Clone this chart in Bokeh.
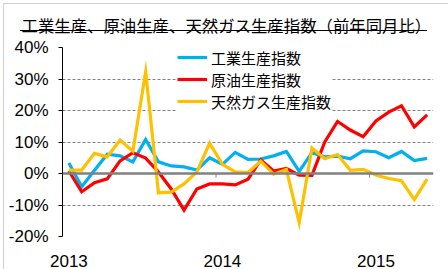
from bokeh.plotting import figure
from bokeh.models import (Range1d, FixedTicker, Span, Legend, LegendItem, ColumnDataSource, Title,
                          InlineStyleSheet)
from bokeh.embed import file_html
from bokeh.resources import INLINE

# Months Jan 2013 .. May 2015
months = [f"{y}-{m:02d}" for y in (2013, 2014, 2015) for m in range(1, 13)][:29]
year_labels = ["2013", "2014", "2015"]

industrial = [3.3, -4.2, 1.0, 6.1, 5.6, 3.7, 10.8, 3.7, 2.4, 2.1, 1.1, 5.0, 2.9, 6.7, 4.5,
              4.6, 5.6, 7.0, 0.7, 6.6, 5.3, 5.5, 4.7, 7.2, 6.9, 5.0, 7.0, 4.1, 4.8]
crude_oil = [0.8, -5.8, -2.9, -1.7, 4.0, 6.6, 4.9, 0.5, -4.9, -11.6, -4.9, -3.3, -3.3, -3.6, -1.8,
             4.3, 0.8, 1.6, -0.5, -0.6, 10.0, 16.5, 13.8, 11.7, 16.7, 19.5, 21.5, 14.8, 18.6]
natural_gas = [1.1, 1.1, 6.4, 5.3, 10.6, 7.1, 32.3, -6.1, -5.9, -3.3, 0.5, 9.6, 2.9, 0.5, 0.3,
               3.9, -0.2, 1.3, -15.6, 8.1, 4.7, 6.0, 1.0, 1.3, -0.5, -1.6, -2.3, -8.3, -1.8]

series_names = ["工業生産指数", "原油生産指数", "天然ガス生産指数"]
colors = ["#00B0F0", "#FF0000", "#FFC000"]
title_text = "工業生産、原油生産、天然ガス生産指数（前年同月比）"

W, H = 448, 269
L, R, T, B = 62, 15, 46, 30
x = list(range(len(months)))
src = ColumnDataSource(dict(x=x, ind=industrial, oil=crude_oil, gas=natural_gas))

# underline of the title and the light chart-area border, drawn with CSS on the figure host
css = InlineStyleSheet(css="""
:host { position: relative; }
:host::after { content: ""; position: absolute; left: 20px; top: 30px; width: 407px; height: 1px;
               background: #000; z-index: 20; pointer-events: none; }
:host::before { content: ""; position: absolute; left: 3px; top: 3px; width: 445px; height: 266px;
                border-left: 1px solid #d0d0d0; border-top: 1px solid #d0d0d0; z-index: 20;
                pointer-events: none; }
""")

p = figure(width=W, height=H, output_backend="svg", toolbar_location=None,
           x_range=Range1d(-0.5, len(months) - 0.5), y_range=Range1d(-20, 40),
           min_border_left=L, min_border_right=R, min_border_top=T, min_border_bottom=B,
           stylesheets=[css])
p.outline_line_color = None
p.background_fill_color = "white"
p.border_fill_color = "white"

title = Title(text=title_text, align="left", offset=21 - L, standoff=21,
              text_font="Noto Sans CJK JP", text_font_size="16.4px", text_font_style="normal",
              text_color="black")
p.add_layout(title, "above")

# grid
p.xgrid.visible = False
p.ygrid.ticker = FixedTicker(ticks=[-20, -10, 10, 20, 30, 40])
p.ygrid.grid_line_color = "#808080"
p.ygrid.grid_line_dash = "3 2"
p.ygrid.grid_line_width = 1

# y axis
p.yaxis.ticker = FixedTicker(ticks=[-20, -10, 0, 10, 20, 30, 40])
p.yaxis.major_label_overrides = {v: f"{v}%" for v in range(-20, 41, 10)}
p.yaxis.axis_line_color = "black"
p.yaxis.axis_line_width = 1
p.yaxis.major_tick_line_color = "black"
p.yaxis.major_tick_out = 4
p.yaxis.major_tick_in = 0
p.yaxis.minor_tick_line_color = None
p.yaxis.major_label_standoff = 10
p.yaxis.major_label_text_font = "Liberation Sans"
p.yaxis.major_label_text_font_size = "17px"
p.yaxis.major_label_text_color = "black"

# x axis: year labels at January of each year
jan_idx = [i for i, m in enumerate(months) if m.endswith("-01")]
p.xaxis.ticker = FixedTicker(ticks=jan_idx)
p.xaxis.major_label_overrides = {i: lab for i, lab in zip(jan_idx, year_labels)}
p.xaxis.axis_line_color = None
p.xaxis.major_tick_line_color = None
p.xaxis.minor_tick_line_color = None
p.xaxis.major_label_standoff = 12
p.xaxis.major_label_text_font = "Liberation Sans"
p.xaxis.major_label_text_font_size = "17px"
p.xaxis.major_label_text_color = "black"

# zero line and year boundary ticks
p.add_layout(Span(location=0, dimension="width", line_color="#808080", line_width=2.5))
bounds = [i - 0.5 for i in jan_idx if i > 0]
p.segment(x0=bounds, x1=bounds, y0=[0] * len(bounds), y1=[-1.3] * len(bounds),
          line_color="#808080", line_width=1)

renderers = []
for key, c in zip(["ind", "oil", "gas"], colors):
    r = p.line("x", key, source=src, line_color=c, line_width=3.2, line_join="miter")
    renderers.append(r)

legend = Legend(items=[LegendItem(label=n, renderers=[r]) for n, r in zip(series_names, renderers)],
                location=(115, 124), orientation="vertical",
                glyph_width=30, glyph_height=22, label_height=22, spacing=0, padding=0, margin=0,
                label_standoff=4, label_text_font="Noto Sans CJK JP",
                label_text_font_size="15px", label_text_color="black",
                background_fill_color="white", background_fill_alpha=1,
                border_line_color=None)
p.add_layout(legend)

open("out.html", "w").write(file_html(p, INLINE))
